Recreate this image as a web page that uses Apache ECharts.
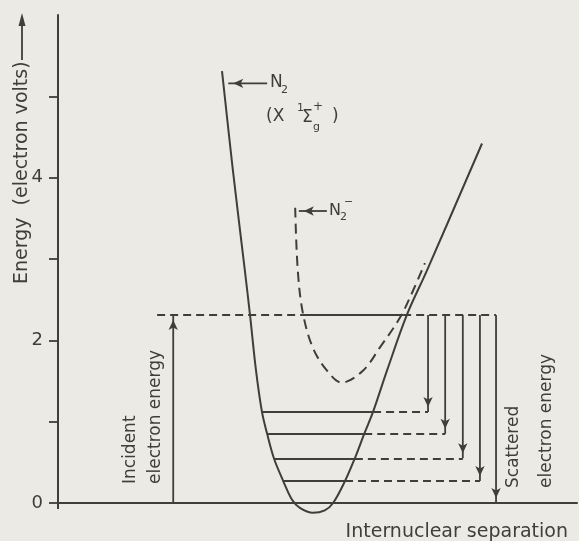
<!DOCTYPE html>
<html>
<head>
<meta charset="utf-8">
<script src="https://cdn.jsdelivr.net/npm/echarts@6/dist/echarts.min.js"></script>
<style>
  html, body { margin: 0; padding: 0; background: #eceae4; }
  #chart { width: 579px; height: 541px; }
</style>
</head>
<body>
<div id="chart"></div>
<script>
// N2 ground state (X 1Σg+) potential curve: [internuclear separation (arb.), energy (eV)]
const groundCurve = [
  [3.16, 5.31], [3.37, 4.09], [3.60, 2.86], [3.70, 2.31], [3.815, 1.63], [3.93, 1.12],
  [4.03, 0.85], [4.16, 0.55], [4.34, 0.27], [4.51, 0.04], [4.66, -0.06], [4.91, -0.12],
  [5.14, -0.09], [5.30, 0.00], [5.53, 0.27], [5.72, 0.55], [5.90, 0.85], [6.07, 1.12],
  [6.34, 1.63], [6.72, 2.31], [7.11, 2.86], [8.17, 4.42]
]
// N2- temporary negative ion curve (dashed)
const anionCurve = [
  [4.57, 3.63], [4.62, 2.86], [4.72, 2.33], [4.91, 1.91], [5.18, 1.63], [5.47, 1.48],
  [5.88, 1.63], [6.20, 1.91], [6.59, 2.28], [6.84, 2.61], [7.07, 2.95]
]
// vibrational levels v=4..1, then v=0 on the axis
const levelEnergy = [1.12, 0.85, 0.55, 0.27, 0]
const levelLeft = [3.93, 4.03, 4.16, 4.34]
const levelRight = [6.07, 5.90, 5.72, 5.53]
const scatterArrowX = [7.13, 7.46, 7.80, 8.13, 8.44]

// incident electron energy line
const incidentEnergy = 2.31
const incidentArrowX = 2.22
const incidentLineX = [1.91, 4.72, 6.65, 8.44] // dashed | solid (in the N2- well) | dashed

// label pointers: [fromX, toX, y]
const n2Pointer = [4.03, 3.28, 5.16]
const anionPointer = [5.18, 4.64, 3.59]

// y axis ticks / labels
const yTickValues = [0, 1, 2, 3, 4, 5]
const yLabelValues = [0, 2, 4]

const ink = '#403e3b'
const font = '"DejaVu Sans", sans-serif'
const lw = 2

const solidSegs = levelEnergy.slice(0, 4).map((e, i) => ({ coords: [[levelLeft[i], e], [levelRight[i], e]] }))
solidSegs.push({ coords: [[incidentLineX[1], incidentEnergy], [incidentLineX[2], incidentEnergy]] })

const dashedSegs = levelEnergy.slice(0, 4).map((e, i) => ({ coords: [[levelRight[i], e], [scatterArrowX[i], e]] }))
dashedSegs.push({ coords: [[incidentLineX[0], incidentEnergy], [incidentLineX[1], incidentEnergy]] })
dashedSegs.push({ coords: [[incidentLineX[2], incidentEnergy], [incidentLineX[3], incidentEnergy]] })

// arrow as a two-point line series, head on the end point with its tip on the point
const arrow = (from, to, dir) => {
  const rot = { down: 180, up: 0, left: 90 }[dir]
  const off = { down: [0, -5], up: [0, 5], left: [5, 0] }[dir]
  return {
    type: 'line', data: [
      { value: from, symbol: 'none' },
      { value: to, symbol: 'arrow', symbolSize: [7, 10], symbolRotate: rot, symbolOffset: off }
    ],
    showSymbol: true, clip: false, silent: true,
    itemStyle: { color: ink }, lineStyle: { color: ink, width: 1.8 }
  }
}

const arrowSeries = scatterArrowX.map((x, i) => arrow([x, incidentEnergy], [x, levelEnergy[i]], 'down'))
arrowSeries.push(arrow([incidentArrowX, 0], [incidentArrowX, incidentEnergy], 'up'))
arrowSeries.push(arrow([n2Pointer[0], n2Pointer[2]], [n2Pointer[1], n2Pointer[2]], 'left'))
arrowSeries.push(arrow([anionPointer[0], anionPointer[2]], [anionPointer[1], anionPointer[2]], 'left'))

const txt = (x, y, text, size, opts = {}) => ({
  type: 'text', x, y, rotation: opts.rotation || 0,
  style: {
    text, fill: ink, font: `${size}px ${font}`,
    textAlign: opts.align || 'left', textVerticalAlign: opts.valign || 'middle'
  }
})

const chart = echarts.init(document.getElementById('chart'))
chart.setOption({
  backgroundColor: '#eceae4',
  animation: false,
  grid: { left: 58, right: 2, top: 15, bottom: 38 },
  xAxis: {
    type: 'value', min: 0, max: 10,
    axisLine: { show: true, lineStyle: { color: ink, width: lw } },
    axisTick: { show: false },
    axisLabel: { show: false },
    splitLine: { show: false }
  },
  yAxis: {
    type: 'value', min: 0, max: 6, interval: 1,
    axisLine: { show: true, lineStyle: { color: ink, width: lw } },
    axisTick: { show: true, length: 9, customValues: yTickValues, lineStyle: { color: ink, width: 1.8 } },
    axisLabel: { customValues: yLabelValues, margin: 15, color: ink, fontSize: 18, fontFamily: font },
    splitLine: { show: false }
  },
  series: [
    {
      name: 'N2', type: 'line', data: groundCurve, smooth: 0.35, showSymbol: false, clip: false,
      lineStyle: { color: ink, width: lw }
    },
    {
      name: 'N2-', type: 'line', data: anionCurve, smooth: 0.35, showSymbol: false, clip: false,
      lineStyle: { color: ink, width: lw, type: [10, 6] }
    },
    {
      type: 'lines', coordinateSystem: 'cartesian2d', data: solidSegs,
      lineStyle: { color: ink, width: 1.8, opacity: 1 }
    },
    {
      type: 'lines', coordinateSystem: 'cartesian2d', data: dashedSegs,
      lineStyle: { color: ink, width: 1.8, opacity: 1, type: [8, 5] }
    },
    ...arrowSeries
  ],
  graphic: [
    // y axis runs a little below zero
    { type: 'line', shape: { x1: 58, y1: 503, x2: 58, y2: 509 }, style: { stroke: ink, lineWidth: lw } },
    // y axis title with long arrow
    txt(22, 284, 'Energy  (electron volts)', 19, { rotation: Math.PI / 2 }),
    { type: 'line', shape: { x1: 22, y1: 60, x2: 22, y2: 22 }, style: { stroke: ink, lineWidth: 1.8 } },
    { type: 'polygon', shape: { points: [[22, 13], [18.5, 26], [25.5, 26]] }, style: { fill: ink } },
    // N2 (X 1Σg+)
    txt(270, 83, 'N', 17),
    txt(281, 90, '2', 11),
    txt(266, 117, '(X', 17),
    txt(297, 108, '1', 11),
    txt(302, 118, 'Σ', 17),
    txt(313, 127, 'g', 11),
    txt(313, 107, '+', 12),
    txt(332, 117, ')', 17),
    // N2-
    txt(329, 211, 'N', 16),
    txt(340, 217, '2', 11),
    txt(344, 202, '−', 11),
    // arrow annotations
    txt(131, 484, 'Incident', 17, { rotation: Math.PI / 2 }),
    txt(156, 484, 'electron energy', 17, { rotation: Math.PI / 2 }),
    txt(514, 488, 'Scattered', 17, { rotation: Math.PI / 2 }),
    txt(547, 488, 'electron energy', 17, { rotation: Math.PI / 2 }),
    txt(568, 532, 'Internuclear separation', 19, { align: 'right' })
  ]
})
</script>
</body>
</html>
